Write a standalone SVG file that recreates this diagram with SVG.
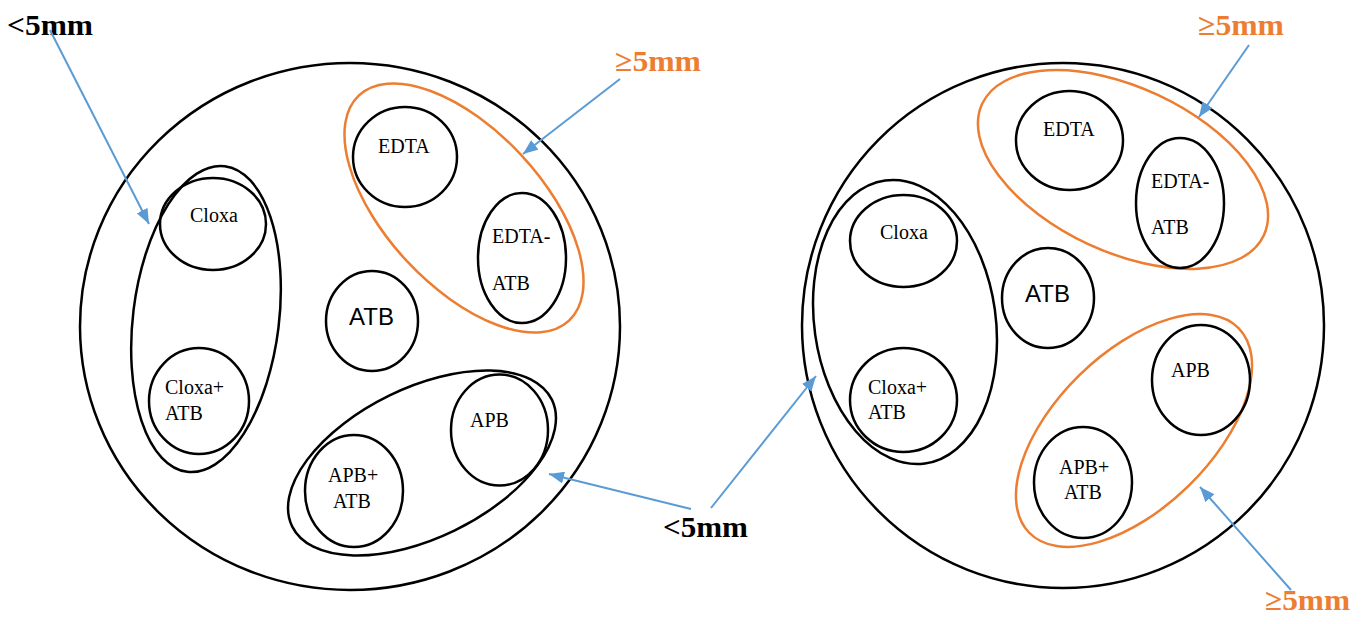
<svg xmlns="http://www.w3.org/2000/svg" width="1365" height="624" viewBox="0 0 1365 624">
<style>
.k{fill:none;stroke:#000;stroke-width:2.5}
.o{fill:none;stroke:#ED7D31;stroke-width:2.5}
.t{font-family:"Liberation Serif","Times New Roman",serif;font-size:20px;fill:#000}
.s{font-family:"Liberation Sans",Arial,sans-serif;font-size:24px;fill:#000}
.lb{font-family:"Liberation Serif","Times New Roman",serif;font-size:30px;font-weight:bold;fill:#000}
.lo{font-family:"Liberation Serif","Times New Roman",serif;font-size:30px;font-weight:bold;fill:#ED7D31}
.a{stroke:#5B9BD5;stroke-width:2;fill:none;marker-end:url(#ah)}
</style>
<defs>
<marker id="ah" markerUnits="userSpaceOnUse" markerWidth="16" markerHeight="12" refX="15" refY="6" orient="auto">
<path d="M0,0 L15,6 L0,12 z" fill="#5B9BD5"/>
</marker>
</defs>
<rect width="1365" height="624" fill="#fff"/>

<!-- Left plate -->
<g id="plate-left">
<ellipse class="k" cx="350" cy="326.5" rx="270" ry="263.5"/>
</g>
<g id="group-cloxa-left">
<ellipse class="k" cx="206" cy="319" rx="73" ry="154" transform="rotate(7 206 319)"/>
</g>
<g id="cloxa-left">
<ellipse class="k" cx="213" cy="224" rx="53" ry="46"/>
<text class="t" x="190" y="222">Cloxa</text>
</g>
<g id="cloxa-atb-left">
<ellipse class="k" cx="199" cy="401" rx="50" ry="53"/>
<text class="t" x="165" y="394">Cloxa+</text>
<text class="t" x="165" y="420">ATB</text>
</g>
<g id="atb-left">
<ellipse class="k" cx="372" cy="321" rx="46" ry="50"/>
<text class="s" x="349" y="325">ATB</text>
</g>
<g id="group-edta-left">
<ellipse class="o" cx="464" cy="208" rx="154" ry="78" transform="rotate(47 464 208)"/>
</g>
<g id="edta-left">
<ellipse class="k" cx="405" cy="157" rx="52" ry="50"/>
<text class="t" x="378" y="153">EDTA</text>
</g>
<g id="edta-atb-left">
<ellipse class="k" cx="522" cy="258" rx="44" ry="65"/>
<text class="t" x="492" y="243">EDTA-</text>
<text class="t" x="492" y="290">ATB</text>
</g>
<g id="group-apb-left">
<ellipse class="k" cx="422" cy="463" rx="144.5" ry="75" transform="rotate(-26 422 463)"/>
</g>
<g id="apb-left">
<ellipse class="k" cx="499.5" cy="430" rx="48.5" ry="55.5"/>
<text class="t" x="470" y="427">APB</text>
</g>
<g id="apb-atb-left">
<ellipse class="k" cx="354" cy="491" rx="49" ry="56"/>
<text class="t" x="328" y="482">APB+</text>
<text class="t" x="333" y="508">ATB</text>
</g>

<!-- Right plate -->
<g id="plate-right">
<ellipse class="k" cx="1063" cy="325.5" rx="261" ry="262.5"/>
</g>
<g id="group-cloxa-right">
<ellipse class="k" cx="905" cy="322" rx="90.7" ry="142.9" transform="rotate(-8 905 322)"/>
</g>
<g id="cloxa-right">
<ellipse class="k" cx="903.5" cy="241" rx="53.5" ry="46"/>
<text class="t" x="880" y="239">Cloxa</text>
</g>
<g id="cloxa-atb-right">
<ellipse class="k" cx="903.5" cy="400" rx="53.5" ry="52"/>
<text class="t" x="868" y="394">Cloxa+</text>
<text class="t" x="868" y="419">ATB</text>
</g>
<g id="atb-right">
<ellipse class="k" cx="1048" cy="298" rx="46" ry="50"/>
<text class="s" x="1025" y="302">ATB</text>
</g>
<g id="group-edta-right">
<ellipse class="o" cx="1123" cy="169.5" rx="155.4" ry="82.3" transform="rotate(25 1123 169.5)"/>
</g>
<g id="edta-right">
<ellipse class="k" cx="1069.5" cy="140.5" rx="53.5" ry="49.5"/>
<text class="t" x="1043" y="136">EDTA</text>
</g>
<g id="edta-atb-right">
<ellipse class="k" cx="1180" cy="203" rx="44" ry="65"/>
<text class="t" x="1151" y="188">EDTA-</text>
<text class="t" x="1151" y="234">ATB</text>
</g>
<g id="group-apb-right">
<ellipse class="o" cx="1134" cy="430.5" rx="146.4" ry="77.8" transform="rotate(-44.3 1134 430.5)"/>
</g>
<g id="apb-right">
<ellipse class="k" cx="1201" cy="380" rx="49" ry="55"/>
<text class="t" x="1171" y="377">APB</text>
</g>
<g id="apb-atb-right">
<ellipse class="k" cx="1083" cy="482.5" rx="49" ry="55.5"/>
<text class="t" x="1059" y="474">APB+</text>
<text class="t" x="1064" y="499">ATB</text>
</g>

<!-- Labels -->
<g id="label-lt5-top"><text class="lb" x="7" y="35" textLength="86" lengthAdjust="spacingAndGlyphs">&lt;5mm</text></g>
<g id="label-ge5-left"><text class="lo" x="615" y="71" textLength="86" lengthAdjust="spacingAndGlyphs">≥5mm</text></g>
<g id="label-lt5-mid"><text class="lb" x="663" y="537" textLength="85" lengthAdjust="spacingAndGlyphs">&lt;5mm</text></g>
<g id="label-ge5-top-right"><text class="lo" x="1198" y="35" textLength="86" lengthAdjust="spacingAndGlyphs">≥5mm</text></g>
<g id="label-ge5-bottom-right"><text class="lo" x="1265" y="610" textLength="85" lengthAdjust="spacingAndGlyphs">≥5mm</text></g>

<!-- Connectors -->
<g id="connectors">
<line class="a" x1="50" y1="30" x2="149" y2="224"/>
<line class="a" x1="620" y1="79" x2="523" y2="154"/>
<line class="a" x1="691" y1="509" x2="549" y2="474"/>
<line class="a" x1="711" y1="508" x2="816" y2="376"/>
<line class="a" x1="1249" y1="45" x2="1199" y2="117"/>
<line class="a" x1="1291" y1="590" x2="1200" y2="487"/>
</g>
</svg>
